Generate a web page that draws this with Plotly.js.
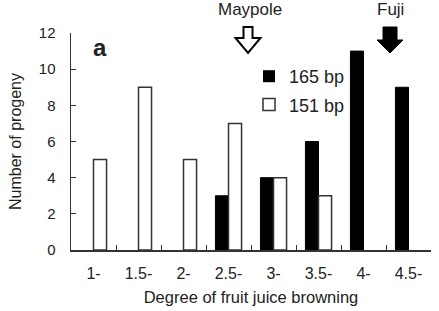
<!DOCTYPE html>
<html>
<head>
<meta charset="utf-8">
<script src="https://cdn.plot.ly/plotly-3.0.1.min.js"></script>
<style>html,body{margin:0;padding:0;background:#fff;}#chart{width:439px;height:311px;}</style>
</head>
<body>
<div id="chart"></div>
<script>
const categories = ["1-", "1.5-", "2-", "2.5-", "3-", "3.5-", "4-", "4.5-"];
const bp165 = [0, 0, 0, 3, 4, 6, 11, 9];
const bp151 = [5, 9, 5, 7, 4, 3, 0, 0];
const seriesNames = ["165 bp", "151 bp"];
const yTicks = [0, 2, 4, 6, 8, 10, 12];

const W = 439, H = 311;
const M = {l: 71, r: 8, t: 33, b: 61};
const pw = W - M.l - M.r, ph = H - M.t - M.b;
function px(x) { return (x - M.l) / pw; }
function py(y) { return (H - M.b - y) / ph; }
function arrowPath(cx, half, top, headY, headHalf, tip) {
  const pts = [[cx - half, top], [cx + half, top], [cx + half, headY], [cx + headHalf, headY],
               [cx, tip], [cx - headHalf, headY], [cx - half, headY]];
  return 'M' + pts.map(p => px(p[0]).toFixed(4) + ',' + py(p[1]).toFixed(4)).join('L') + 'Z';
}
function outline(vals, w) { return vals.map(v => v > 0 ? w : 0); }

const font = "Liberation Sans, Arial, sans-serif";
const data = [
  {type: 'bar', x: categories, y: bp165, name: seriesNames[0], legendgroup: 'a',
   marker: {color: '#000', line: {color: '#000', width: outline(bp165, 1)}}},
  {type: 'bar', x: categories, y: bp151, name: seriesNames[1], legendgroup: 'b',
   marker: {color: '#fff', line: {color: '#333', width: outline(bp151, 1.5)}}}
];

const layout = {
  width: W, height: H,
  margin: M,
  paper_bgcolor: '#fff', plot_bgcolor: '#fff',
  font: {family: font, color: '#222', size: 15},
  barmode: 'group', bargap: 0.42, bargroupgap: 0,
  showlegend: true,
  legend: {x: px(249), y: py(58), xanchor: 'left', yanchor: 'top', bgcolor: 'rgba(0,0,0,0)',
           font: {size: 18, family: font}, traceorder: 'grouped', tracegroupgap: 2, itemwidth: 30},
  xaxis: {type: 'category', showline: true, linecolor: '#333', linewidth: 1.5, ticks: 'inside',
          tickson: 'boundaries', ticklen: 5, tickcolor: '#333', showgrid: false, ticklabelstandoff: 8,
          tickfont: {size: 16, family: font}, title: {text: 'Degree of fruit juice browning', font: {size: 16.5}, standoff: 10}},
  yaxis: {range: [0, 12], tickvals: yTicks, showline: true, linecolor: '#333', linewidth: 1.5,
          ticks: 'inside', ticklen: 5, tickcolor: '#333', showgrid: false, zeroline: false, ticklabelstandoff: 11,
          tickfont: {size: 15, family: font}, title: {text: 'Number of progeny', font: {size: 16}, standoff: 13}},
  annotations: [
    {xref: 'paper', yref: 'paper', x: px(250), y: py(10), text: 'Maypole', showarrow: false,
     font: {size: 17}, xanchor: 'center', yanchor: 'middle'},
    {xref: 'paper', yref: 'paper', x: px(390), y: py(10), text: 'Fuji', showarrow: false,
     font: {size: 17}, xanchor: 'center', yanchor: 'middle'},
    {xref: 'paper', yref: 'paper', x: px(91), y: py(47), text: '<b>a</b>', showarrow: false,
     font: {size: 24}, xanchor: 'left', yanchor: 'middle'}
  ],
  shapes: [
    {type: 'path', xref: 'paper', yref: 'paper', path: arrowPath(248, 4.5, 27, 38, 12.5, 53),
     fillcolor: '#fff', line: {color: '#000', width: 2}},
    {type: 'path', xref: 'paper', yref: 'paper', path: arrowPath(390, 7, 27, 40, 13, 53),
     fillcolor: '#000', line: {color: '#000', width: 1}}
  ]
};

Plotly.newPlot('chart', data, layout, {displayModeBar: false, staticPlot: true});
</script>
</body>
</html>
